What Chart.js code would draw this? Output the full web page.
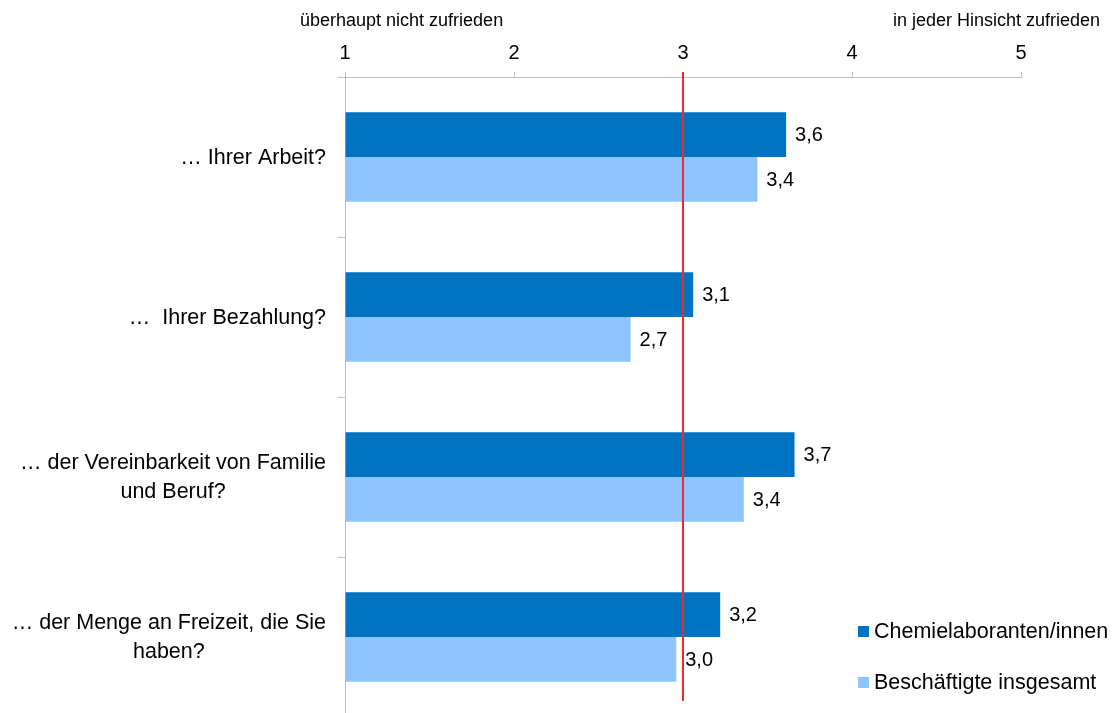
<!DOCTYPE html>
<html lang="de">
<head>
<meta charset="utf-8">
<title>Zufriedenheit</title>
<script src="https://cdn.jsdelivr.net/npm/chart.js@4"></script>
<style>
  html, body { margin: 0; padding: 0; background: #fff; overflow: hidden; }
  #wrap { position: relative; width: 1115px; height: 717px; }
</style>
</head>
<body>
<div id="wrap"><canvas id="chart"></canvas></div>
<script>
// Wie zufrieden sind Sie mit ...
const categories = [
    ['… Ihrer Arbeit?'],
    ['…  Ihrer Bezahlung?'],
    ['… der Vereinbarkeit von Familie', 'und Beruf?'],
    ['… der Menge an Freizeit, die Sie', 'haben?']
];
const seriesNames = ['Chemielaboranten/innen', 'Beschäftigte insgesamt'];
const chemielaboranten = [3.61, 3.06, 3.66, 3.22];
const insgesamt = [3.44, 2.69, 3.36, 2.96];
const scaleTicks = [1, 2, 3, 4, 5];
const scaleEnds = ['überhaupt nicht zufrieden', 'in jeder Hinsicht zufrieden'];
const midValue = 3;

const colors = ['#0273C3', '#8DC4FD'];
const fontFamily = '"Liberation Sans", Arial, sans-serif';

function fmt(v) {
    return v.toFixed(1).replace('.', ',');
}

// category labels: block right aligned, lines centred inside the block
const categoryLabels = {
    id: 'categoryLabels',
    afterDraw(chart) {
        const ctx = chart.ctx;
        const y = chart.scales.y;
        ctx.save();
        ctx.font = '21.5px ' + fontFamily;
        ctx.fillStyle = '#000';
        ctx.textAlign = 'center';
        ctx.textBaseline = 'middle';
        const right = chart.chartArea.left - 19;
        const lh = 29;
        categories.forEach((lines, i) => {
            const w = Math.max(...lines.map(l => ctx.measureText(l).width));
            const cx = right - w / 2;
            const cy = y.getPixelForValue(i) + 1;
            const top = cy - (lines.length - 1) * lh / 2;
            lines.forEach((l, k) => ctx.fillText(l, cx, top + k * lh));
        });
        ctx.restore();
    }
};

// value labels next to the bars
const valueLabels = {
    id: 'valueLabels',
    afterDatasetsDraw(chart) {
        const ctx = chart.ctx;
        ctx.save();
        ctx.font = '20px ' + fontFamily;
        ctx.fillStyle = '#000';
        ctx.textAlign = 'left';
        ctx.textBaseline = 'middle';
        chart.data.datasets.forEach((ds, di) => {
            chart.getDatasetMeta(di).data.forEach((bar, i) => {
                ctx.fillText(fmt(ds.data[i]), bar.x + 9, bar.y + 1);
            });
        });
        ctx.restore();
    }
};

// red reference line at the scale middle
const midLine = {
    id: 'midLine',
    afterDatasetsDraw(chart) {
        const ctx = chart.ctx;
        const area = chart.chartArea;
        const x = chart.scales.x.getPixelForValue(midValue);
        ctx.save();
        ctx.strokeStyle = '#EE2A2A';
        ctx.lineWidth = 2;
        ctx.beginPath();
        ctx.moveTo(x, area.top - 5);
        ctx.lineTo(x, area.bottom - 16);
        ctx.stroke();
        ctx.restore();
    }
};

// scale end captions and legend
const extras = {
    id: 'extras',
    afterDraw(chart) {
        const ctx = chart.ctx;
        ctx.save();
        ctx.fillStyle = '#000';
        ctx.textBaseline = 'middle';
        ctx.font = '18px ' + fontFamily;
        ctx.textAlign = 'left';
        ctx.fillText(scaleEnds[0], 300, 21);
        ctx.textAlign = 'right';
        ctx.fillText(scaleEnds[1], 1100, 21);

        ctx.font = '21.5px ' + fontFamily;
        ctx.textAlign = 'left';
        const lx = 858, rows = [632, 683];
        seriesNames.forEach((name, i) => {
            ctx.fillStyle = colors[i];
            ctx.fillRect(lx, rows[i] - 6, 11, 11);
            ctx.fillStyle = '#000';
            ctx.fillText(name, lx + 16, rows[i]);
        });
        ctx.restore();
    }
};

new Chart(document.getElementById('chart'), {
    type: 'bar',
    data: {
        labels: categories,
        datasets: [
            { label: seriesNames[0], data: chemielaboranten, backgroundColor: colors[0] },
            { label: seriesNames[1], data: insgesamt, backgroundColor: colors[1] }
        ]
    },
    options: {
        indexAxis: 'y',
        responsive: true,
        maintainAspectRatio: false,
        animation: false,
        datasets: {
            bar: { categoryPercentage: 0.56, barPercentage: 1.0, base: 1 }
        },
        layout: { padding: { top: 0, right: 94, bottom: 0, left: 0 } },
        plugins: {
            legend: { display: false },
            tooltip: { enabled: false }
        },
        scales: {
            x: {
                position: 'top',
                min: 1,
                max: 5,
                afterBuildTicks: s => { s.ticks = scaleTicks.map(v => ({ value: v })); },
                afterFit: s => { s.height = 77; },
                grid: { drawOnChartArea: false, drawTicks: true, tickLength: 5, color: '#BFBFBF' },
                border: { color: '#BFBFBF', width: 1 },
                ticks: {
                    color: '#000',
                    padding: 7,
                    font: { size: 20, family: fontFamily }
                }
            },
            y: {
                afterFit: s => { s.width = 345; },
                grid: { drawOnChartArea: false, drawTicks: true, tickLength: 7, color: '#BFBFBF', offset: true },
                border: { color: '#BFBFBF', width: 1 },
                ticks: { display: false }
            }
        }
    },
    plugins: [midLine, valueLabels, categoryLabels, extras]
});
</script>
</body>
</html>
